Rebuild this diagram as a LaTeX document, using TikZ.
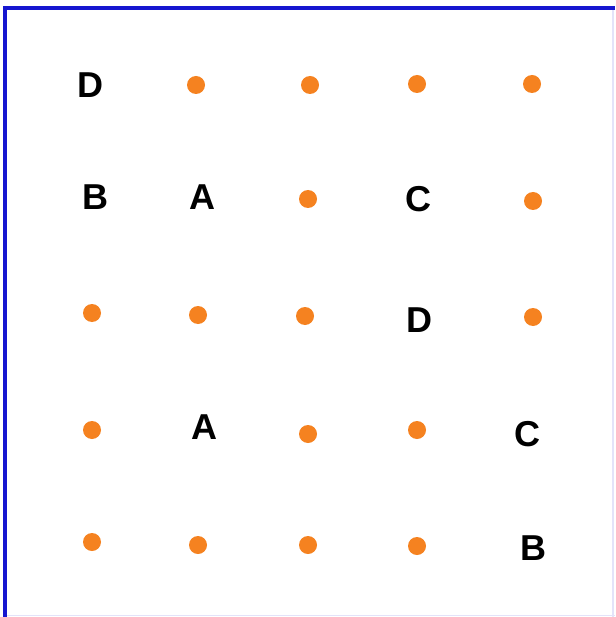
\documentclass[tikz,border=0pt]{standalone}
\usepackage{fontspec}
\setmainfont{Liberation Sans}
\definecolor{dotorange}{RGB}{245,130,32}
\definecolor{frameblue}{RGB}{22,22,208}

\begin{document}
\begin{tikzpicture}[x=1pt,y=-1pt,
    dot/.style={circle,fill=dotorange,inner sep=0pt,minimum size=18pt},
    letter/.style={inner sep=0pt,font=\fontsize{36}{36}\selectfont\bfseries}]
    \useasboundingbox (0,0) rectangle (615,617);
    % frame
    \draw[frameblue!12, line width=1.5] (613,8)--(613,617) (5,615.5)--(615,615.5);
    \draw[frameblue, line width=4] (5,617)--(5,8.5)--(615,8.5);
    % row 1
    \node[letter] (d1) at (90,85) {D};
    \node[dot] (p12) at (196,85) {};
    \node[dot] (p13) at (310,85) {};
    \node[dot] (p14) at (417,84) {};
    \node[dot] (p15) at (532,84) {};
    % row 2
    \node[letter] (b1) at (95,197) {B};
    \node[letter] (a1) at (202,197) {A};
    \node[dot] (p23) at (308,199) {};
    \node[letter] (c1) at (418,199) {C};
    \node[dot] (p25) at (533,201) {};
    % row 3
    \node[dot] (p31) at (92,313) {};
    \node[dot] (p32) at (198,315) {};
    \node[dot] (p33) at (305,316) {};
    \node[letter] (d2) at (419,320) {D};
    \node[dot] (p35) at (533,317) {};
    % row 4
    \node[dot] (p41) at (92,430) {};
    \node[letter] (a2) at (204,427) {A};
    \node[dot] (p43) at (308,434) {};
    \node[dot] (p44) at (417,430) {};
    \node[letter] (c2) at (527,434) {C};
    % row 5
    \node[dot] (p51) at (92,542) {};
    \node[dot] (p52) at (198,545) {};
    \node[dot] (p53) at (308,545) {};
    \node[dot] (p54) at (417,546) {};
    \node[letter] (b2) at (533,548) {B};
\end{tikzpicture}
\end{document}
